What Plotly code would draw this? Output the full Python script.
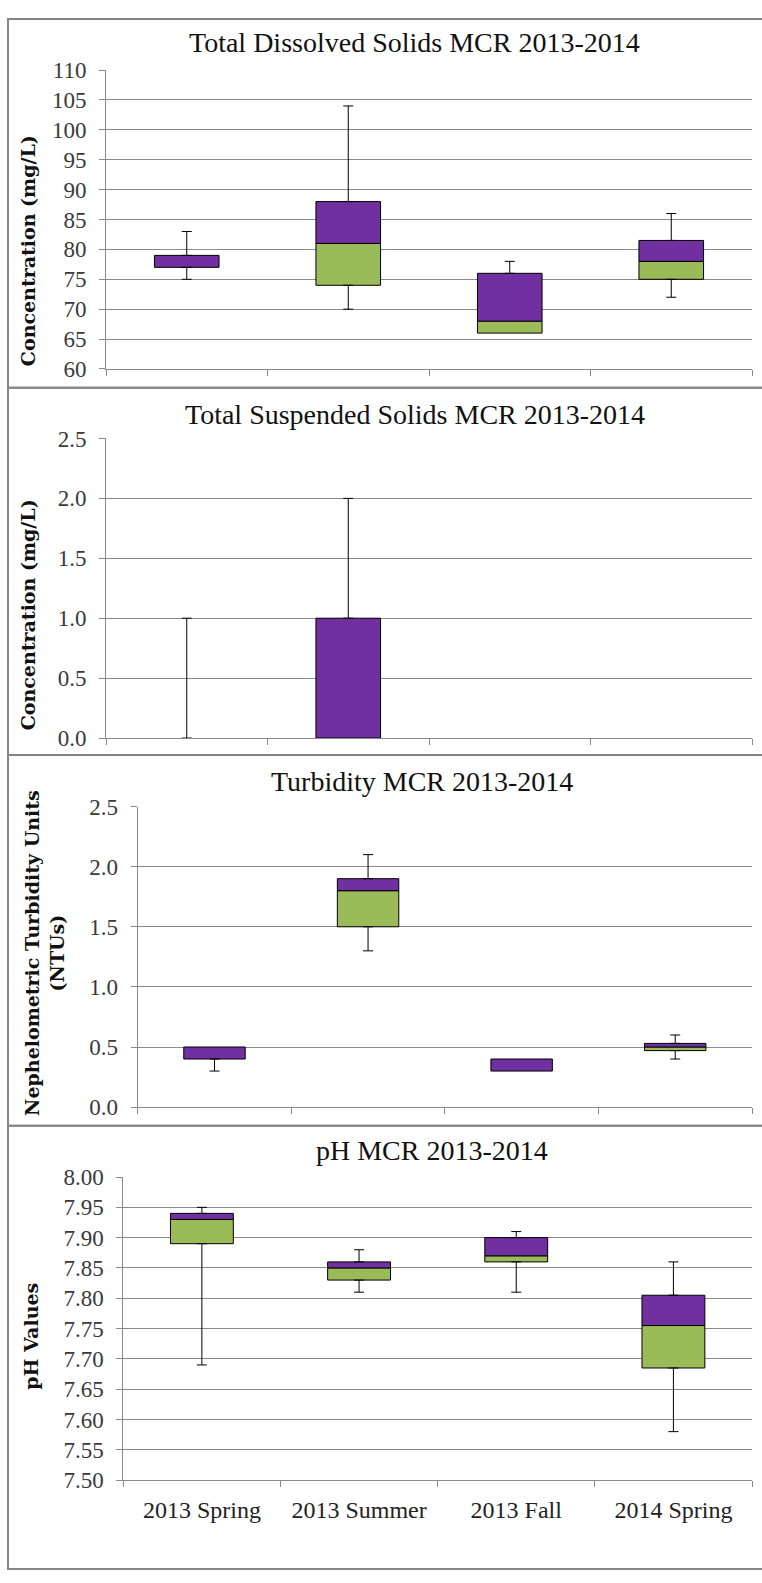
import plotly.graph_objects as go

# ---- data -------------------------------------------------------------
seasons = ["2013 Spring", "2013 Summer", "2013 Fall", "2014 Spring"]

tds_min = [75, 70, 66, 72]
tds_q1 = [77, 74, 66, 75]
tds_med = [77, 81, 68, 78]
tds_q3 = [79, 88, 76, 81.5]
tds_max = [83, 104, 78, 86]
tds_ticks = [60, 65, 70, 75, 80, 85, 90, 95, 100, 105, 110]

tss_min = [0, 0, 0, 0]
tss_q1 = [0, 0, 0, 0]
tss_med = [0, 0, 0, 0]
tss_q3 = [0, 1, 0, 0]
tss_max = [1, 2, 0, 0]
tss_ticks = [0.0, 0.5, 1.0, 1.5, 2.0, 2.5]

turb_min = [0.3, 1.3, 0.3, 0.40]
turb_q1 = [0.4, 1.5, 0.3, 0.47]
turb_med = [0.4, 1.8, 0.3, 0.50]
turb_q3 = [0.5, 1.9, 0.4, 0.53]
turb_max = [0.5, 2.1, 0.4, 0.60]
turb_ticks = [0.0, 0.5, 1.0, 1.5, 2.0, 2.5]

ph_min = [7.69, 7.81, 7.81, 7.58]
ph_q1 = [7.89, 7.83, 7.86, 7.685]
ph_med = [7.93, 7.85, 7.87, 7.755]
ph_q3 = [7.94, 7.86, 7.90, 7.805]
ph_max = [7.95, 7.88, 7.91, 7.86]
ph_ticks = [7.50, 7.55, 7.60, 7.65, 7.70, 7.75, 7.80, 7.85, 7.90, 7.95, 8.00]

# ---- styling ------------------------------------------------------------
W, H = 762, 1583
PURPLE = "#7030A0"
GREEN = "#9BBB59"
GRID = "#8a8a8a"
BORDER = "#858585"
SERIF = "Liberation Serif, Times New Roman, serif"
TICK_FONT = dict(family=SERIF, size=23, color="#3a3a3a")
XTICK_FONT = dict(family=SERIF, size=24, color="#222222")
TITLE_FONT = dict(family=SERIF, size=28, color="#111111")
AXIS_TITLE_FONT = dict(family="DejaVu Serif, serif", size=19, color="#111111")


def fx(p):
    return p / W


def fy(p):
    return 1 - p / H


def positive_or_none(values):
    return [v if v > 0 else None for v in values]


panels = [
    dict(title="Total Dissolved Solids MCR 2013-2014", ytitle="Concentration (mg/L)",
         mn=tds_min, q1=tds_q1, med=tds_med, q3=tds_q3, mx=tds_max, ticks=tds_ticks,
         fmt="d", left=106, top=59, bottom=362.7, title_xy=(415, 31), ytitle_xy=(28, 243),
         frame=(7, 381.7)),
    dict(title="Total Suspended Solids MCR 2013-2014", ytitle="Concentration (mg/L)",
         mn=tss_min, q1=tss_q1, med=tss_med, q3=tss_q3, mx=tss_max, ticks=tss_ticks,
         fmt=".1f", left=106, top=433.3, bottom=737.7, title_xy=(415, 409), ytitle_xy=(28, 613),
         frame=(381.7, 755)),
    dict(title="Turbidity MCR 2013-2014",
         ytitle="Nephelometric Turbidity Units<br>(NTUs)",
         mn=turb_min, q1=turb_q1, med=turb_med, q3=turb_q3, mx=turb_max, ticks=turb_ticks,
         fmt=".1f", left=137.7, top=807.3, bottom=1112.7, title_xy=(422, 782), ytitle_xy=(45, 956),
         frame=(755, 1131.7)),
    dict(title="pH MCR 2013-2014", ytitle="pH Values",
         mn=ph_min, q1=ph_q1, med=ph_med, q3=ph_q3, mx=ph_max, ticks=ph_ticks,
         fmt=".2f", left=123.3, top=1183.7, bottom=1491.7, title_xy=(432, 1157), ytitle_xy=(31, 1346),
         frame=(1131.7, 1582)),
]

RIGHT = 752

fig = go.Figure()
annotations = []
shapes = []
axes = {}

for i, p in enumerate(panels, start=1):
    xa = "x" if i == 1 else f"x{i}"
    ya = "y" if i == 1 else f"y{i}"

    # lower half of the box: Q1 -> median
    fig.add_trace(go.Bar(
        x=seasons, y=positive_or_none([m - q for m, q in zip(p["med"], p["q1"])]),
        base=p["q1"], width=0.4,
        marker=dict(color=GREEN, line=dict(color="black", width=1)),
        xaxis=xa, yaxis=ya, showlegend=False, hoverinfo="skip"))
    # upper half of the box: median -> Q3
    fig.add_trace(go.Bar(
        x=seasons, y=positive_or_none([q - m for q, m in zip(p["q3"], p["med"])]),
        base=p["med"], width=0.4,
        marker=dict(color=PURPLE, line=dict(color="black", width=1)),
        xaxis=xa, yaxis=ya, showlegend=False, hoverinfo="skip"))

    # upper whisker: Q3 -> max
    fig.add_trace(go.Scatter(
        x=seasons, y=[q if m > q else None for q, m in zip(p["q3"], p["mx"])],
        mode="markers", marker=dict(size=1, color="rgba(0,0,0,0)"),
        error_y=dict(type="data", symmetric=False,
                     array=[m - q for q, m in zip(p["q3"], p["mx"])],
                     arrayminus=[0] * len(seasons),
                     color="black", thickness=1, width=5),
        xaxis=xa, yaxis=ya, showlegend=False, hoverinfo="skip"))
    # lower whisker: min -> Q1
    fig.add_trace(go.Scatter(
        x=seasons, y=[q if m < q else None for q, m in zip(p["q1"], p["mn"])],
        mode="markers", marker=dict(size=1, color="rgba(0,0,0,0)"),
        error_y=dict(type="data", symmetric=False,
                     array=[0] * len(seasons),
                     arrayminus=[q - m for q, m in zip(p["q1"], p["mn"])],
                     color="black", thickness=1, width=5),
        xaxis=xa, yaxis=ya, showlegend=False, hoverinfo="skip"))

    xkey = "xaxis" if i == 1 else f"xaxis{i}"
    ykey = "yaxis" if i == 1 else f"yaxis{i}"
    axes[xkey] = dict(
        domain=[fx(p["left"]), fx(RIGHT)], anchor=ya, type="category",
        range=[-0.5, len(seasons) - 0.5], showline=True, linecolor=GRID, linewidth=1,
        ticks="outside", tickson="boundaries", ticklen=6, tickcolor=GRID,
        showgrid=False, zeroline=False, showticklabels=(i == 4),
        tickfont=XTICK_FONT, ticklabelstandoff=8, fixedrange=True)
    axes[ykey] = dict(
        domain=[fy(p["bottom"]), fy(p["top"])], anchor=xa,
        range=[p["ticks"][0], p["ticks"][-1]], tickvals=p["ticks"], tickformat=p["fmt"],
        showline=True, linecolor=GRID, linewidth=1, showgrid=True, gridcolor=GRID,
        gridwidth=1, zeroline=False, ticks="outside", ticklen=6, tickcolor=GRID,
        tickfont=TICK_FONT, ticklabelstandoff=8, fixedrange=True)

    annotations.append(dict(
        text=p["title"], x=fx(p["title_xy"][0]), y=fy(p["title_xy"][1]),
        xref="paper", yref="paper", xanchor="center", yanchor="middle",
        showarrow=False, font=TITLE_FONT))
    annotations.append(dict(
        text="<b>" + p["ytitle"].replace("<br>", "</b><br><b>") + "</b>",
        x=fx(p["ytitle_xy"][0]), y=fy(p["ytitle_xy"][1]),
        xref="paper", yref="paper", xanchor="center", yanchor="middle",
        textangle=-90, showarrow=False, font=AXIS_TITLE_FONT))

    top_px, bot_px = p["frame"]
    shapes.append(dict(
        type="rect", xref="paper", yref="paper",
        x0=fx(8), x1=fx(766), y0=fy(bot_px), y1=fy(top_px),
        line=dict(color=BORDER, width=2), fillcolor="rgba(0,0,0,0)", layer="above"))

fig.update_layout(
    width=W, height=H, margin=dict(l=0, r=0, t=0, b=0),
    font=dict(family=SERIF, size=22, color="#333333"),
    paper_bgcolor="white", plot_bgcolor="white",
    barmode="overlay", showlegend=False,
    annotations=annotations, shapes=shapes,
    **axes,
)

fig.write_html("out.html", config={"displayModeBar": False})
